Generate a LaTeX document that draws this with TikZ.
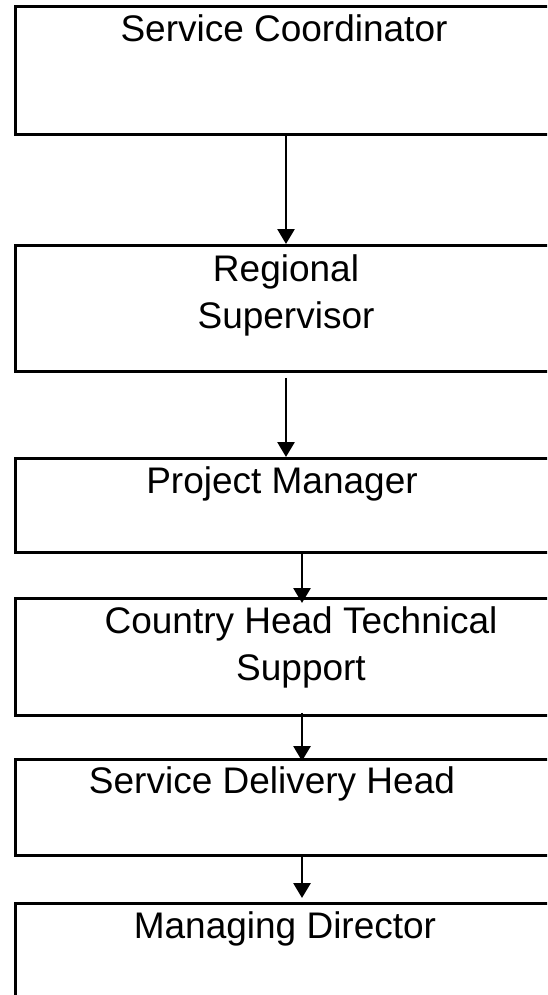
\documentclass[tikz,border=0pt]{standalone}
\usepackage{fontspec}
\setmainfont{Liberation Sans}
\usetikzlibrary{arrows.meta}
\begin{document}
\begin{tikzpicture}[x=1pt,y=-1pt,
  box/.style={draw=black,line width=2.8pt,rectangle,anchor=north west,minimum width=570pt,inner sep=0pt},
  lbl/.style={anchor=base,align=center,inner sep=0pt,font=\fontsize{37}{47}\selectfont},
  conn/.style={draw=black,line width=2.8pt,-{Triangle[width=17pt,length=15pt]}}]
\useasboundingbox (0,0) rectangle (547,995);
\clip (0,0) rectangle (547,995);
\node[box,minimum height=128pt] (b1) at (14,5) {};
\node[box,minimum height=126pt] (b2) at (14,244) {};
\node[box,minimum height=94pt] (b3) at (14,457) {};
\node[box,minimum height=117pt] (b4) at (14,597) {};
\node[box,minimum height=96pt] (b5) at (14,758) {};
\node[box,minimum height=120pt] (b6) at (14,902) {};
\node[lbl] (t1) at (284,42) {Service Coordinator};
\node[lbl] (t2) at (286,328) {Regional\\Supervisor};
\node[lbl] (t3) at (282,493) {Project Manager};
\node[lbl] (t4) at (301,680) {Country Head Technical\\Support};
\node[lbl] (t5) at (272,793) {Service Delivery Head};
\node[lbl] (t6) at (285,938) {Managing Director};
\coordinate (xa) at (286,0);
\coordinate (xb) at (302,0);
\draw[conn] (b1.south -| xa) -- (b2.north -| xa);
\draw[conn] ([yshift=-5pt]b2.south -| xa) -- (b3.north -| xa);
\draw[conn] (b3.south -| xb) -- ([yshift=-6pt]b4.north -| xb);
\draw[conn] ([yshift=4pt]b4.south -| xb) -- ([yshift=-3pt]b5.north -| xb);
\draw[conn] (b5.south -| xb) -- ([yshift=4pt]b6.north -| xb);
\end{tikzpicture}
\end{document}
